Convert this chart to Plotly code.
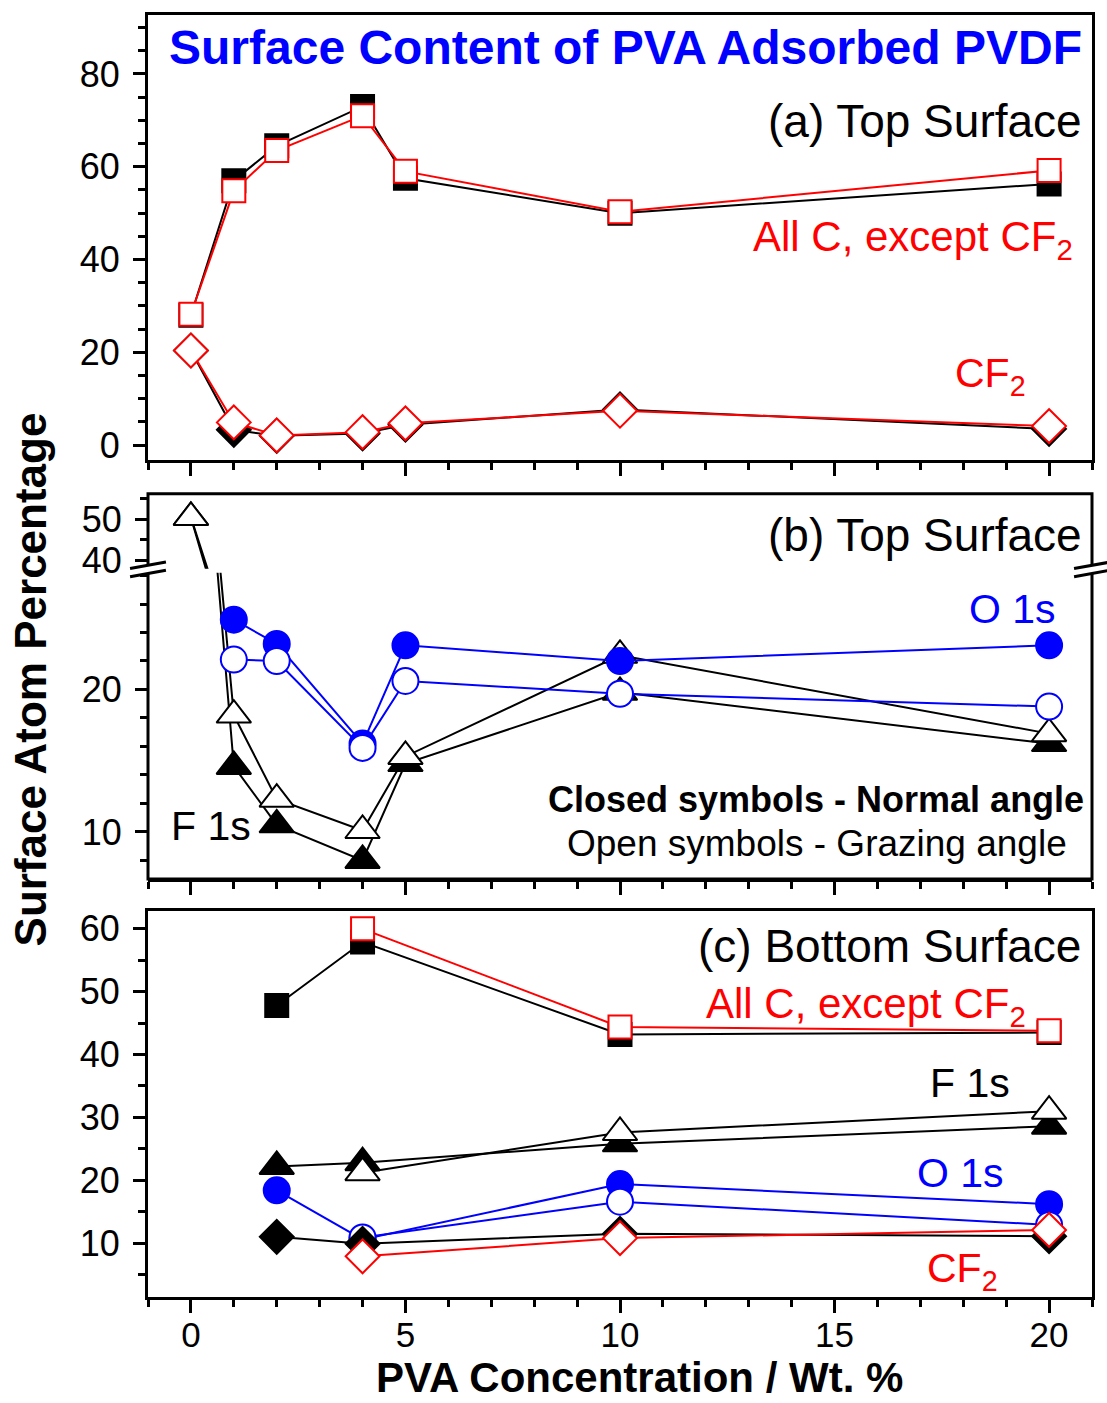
import plotly.graph_objects as go

# ---------------- data ----------------
# (a) Top surface: carbon (all C except CF2) and CF2
x_a = [0, 1, 2, 4, 5, 10, 20]
a_C_normal = [28.0, 57.0, 64.5, 73.0, 57.5, 50.0, 56.3]
a_C_grazing = [28.2, 54.8, 63.5, 71.0, 59.0, 50.3, 59.2]
a_CF2_normal = [20.4, 3.3, 2.0, 2.5, 4.4, 7.7, 3.5]
a_CF2_grazing = [20.4, 4.9, 2.1, 2.8, 4.7, 7.4, 4.1]

# (b) Top surface: F 1s and O 1s
x_bF = [0, 1, 2, 4, 5, 10, 20]
b_F_normal = [50.5, 14.6, 10.5, 8.0, 14.8, 19.8, 16.2]
b_F_grazing = [50.5, 18.2, 12.3, 10.1, 15.3, 22.4, 16.9]
x_bO = [1, 2, 4, 5, 10, 20]
b_O_normal = [24.9, 23.2, 16.2, 23.1, 22.0, 23.1]
b_O_grazing = [22.1, 22.0, 15.9, 20.6, 19.7, 18.8]

# (c) Bottom surface
x_c_normal = [2, 4, 10, 20]
x_c_grazing = [4, 10, 20]
c_C_normal = [47.8, 57.9, 43.2, 43.5]
c_C_grazing = [60.0, 44.4, 43.8]
c_F_normal = [22.2, 22.8, 25.8, 28.6]
c_F_grazing = [21.2, 27.6, 31.0]
c_O_normal = [18.4, 10.6, 19.4, 16.2]
c_O_grazing = [10.9, 16.6, 12.9]
c_CF2_normal = [11.0, 9.9, 11.5, 11.1]
c_CF2_grazing = [7.9, 10.8, 12.1]

x_ticks = [0, 5, 10, 15, 20]

# ---------------- styling ----------------
FONT = "Liberation Sans, Arial, sans-serif"
RED, BLUE, BLACK = "#ff0000", "#0000ff", "#000000"
SIZES = {"square": 23, "circle": 26, "triangle-up": 30, "diamond": 26}

fig = go.Figure()


def series(x, y, symbol, color, filled, xa, ya):
    fig.add_trace(go.Scatter(
        x=x, y=y, mode="lines+markers", xaxis=xa, yaxis=ya,
        line=dict(color=color, width=2),
        marker=dict(symbol=symbol, size=SIZES[symbol],
                    color=color if filled else "white",
                    line=dict(color=color, width=2)),
        showlegend=False, hoverinfo="skip", cliponaxis=True,
    ))


# panel (a)
series(x_a, a_C_normal, "square", BLACK, True, "x", "y")
series(x_a, a_C_grazing, "square", RED, False, "x", "y")
series(x_a, a_CF2_normal, "diamond", BLACK, True, "x", "y")
series(x_a, a_CF2_grazing, "diamond", RED, False, "x", "y")

# panel (b): drawn on both segments of the broken axis
for ya, xa in (("y2", "x2"), ("y3", "x3")):
    series(x_bF, b_F_normal, "triangle-up", BLACK, True, xa, ya)
    series(x_bF, b_F_grazing, "triangle-up", BLACK, False, xa, ya)
series(x_bO, b_O_normal, "circle", BLUE, True, "x2", "y2")
series(x_bO, b_O_grazing, "circle", BLUE, False, "x2", "y2")

# panel (c)
series(x_c_normal, c_C_normal, "square", BLACK, True, "x4", "y4")
series(x_c_grazing, c_C_grazing, "square", RED, False, "x4", "y4")
series(x_c_normal, c_F_normal, "triangle-up", BLACK, True, "x4", "y4")
series(x_c_grazing, c_F_grazing, "triangle-up", BLACK, False, "x4", "y4")
series(x_c_normal, c_O_normal, "circle", BLUE, True, "x4", "y4")
series(x_c_grazing, c_O_grazing, "circle", BLUE, False, "x4", "y4")
series(x_c_normal, c_CF2_normal, "diamond", BLACK, True, "x4", "y4")
series(x_c_grazing, c_CF2_grazing, "diamond", RED, False, "x4", "y4")

# ---------------- axes ----------------
tickfont = dict(family=FONT, size=36, color=BLACK)


def xax(show_labels, anchor, visible=True, line=True, mirror=True):
    return dict(
        range=[-1, 21], domain=[0, 1], anchor=anchor, visible=visible,
        showgrid=False, zeroline=False, showline=line, mirror=mirror,
        linecolor=BLACK, linewidth=3,
        tickmode="array", tickvals=x_ticks, showticklabels=show_labels,
        ticks="outside", ticklen=13, tickwidth=2.5, tickcolor=BLACK,
        ticklabelstandoff=-8,
        minor=dict(dtick=1, tick0=0, ticks="outside", ticklen=7,
                   tickwidth=2.5, tickcolor=BLACK),
        tickfont=dict(family=FONT, size=35, color=BLACK),
    )


def yax(domain, rng, tickvals, minor_dtick, anchor, line=True, mirror=True):
    return dict(
        domain=domain, range=rng, anchor=anchor,
        showgrid=False, zeroline=False, showline=line, mirror=mirror,
        linecolor=BLACK, linewidth=3,
        tickmode="array", tickvals=tickvals,
        ticks="outside", ticklen=12, tickwidth=2.5, tickcolor=BLACK,
        ticklabelstandoff=6,
        minor=dict(dtick=minor_dtick, tick0=0, ticks="outside", ticklen=7,
                   tickwidth=2.5, tickcolor=BLACK),
        tickfont=tickfont,
    )


dom_a = [0.6529, 1.0]
dom_b = [0.3261, 0.6265]
dom_b_low = [0.3261, 0.5650]
dom_b_up = [0.5681, 0.6265]
dom_c = [0.0, 0.3012]

fig.update_layout(
    width=1107, height=1403,
    margin=dict(l=148, r=14, t=12, b=106),
    paper_bgcolor="white", plot_bgcolor="white",
    font=dict(family=FONT, color=BLACK),
    xaxis=xax(False, "y"),
    yaxis=yax(dom_a, [-3.2, 92.7], [0, 20, 40, 60, 80], 5, "x"),
    xaxis2=xax(False, "y2", line=True, mirror=False),
    yaxis2=yax(dom_b_low, [6.7, 28.2], [10, 20], 2, "x2", line=False),
    xaxis3=xax(False, "y3", visible=False),
    yaxis3=yax(dom_b_up, [38, 56.25], [40, 50], 5, "x3", line=False),
    xaxis4=xax(True, "y4"),
    yaxis4=yax(dom_c, [1.43, 62.86], [10, 20, 30, 40, 50, 60], 5, "x4"),
)

# frame of panel (b), continuous across the axis break
shapes = [dict(type="rect", xref="paper", yref="paper", x0=0, x1=1,
               y0=dom_b[0], y1=dom_b[1], line=dict(color=BLACK, width=3),
               layer="above")]
# break marks on the left and right edges
ymid = (dom_b_low[1] + dom_b_up[0]) / 2 + 0.001
dx, dy, gap = 0.019, 0.0025, 0.0032
for xc in (0.0, 1.0):
    shapes.append(dict(type="path", xref="paper", yref="paper",
                       path=f"M{xc-dx},{ymid-gap-dy} L{xc+dx},{ymid-gap+dy} "
                            f"L{xc+dx},{ymid+gap+dy} L{xc-dx},{ymid+gap-dy} Z",
                       fillcolor="white", line=dict(width=0), layer="above"))
    for s in (-gap, gap):
        shapes.append(dict(type="line", xref="paper", yref="paper",
                           x0=xc - dx, x1=xc + dx,
                           y0=ymid + s - dy, y1=ymid + s + dy,
                           line=dict(color=BLACK, width=3), layer="above"))
fig.update_layout(shapes=shapes)


# ---------------- labels ----------------
def label(text, x, y, xref, yref, size=36, color=BLACK, xanchor="right",
          bold=False, angle=0):
    if bold:
        text = f"<b>{text}</b>"
    fig.add_annotation(text=text, x=x, y=y, xref=xref, yref=yref,
                       showarrow=False, xanchor=xanchor, yanchor="middle",
                       textangle=angle,
                       font=dict(family=FONT, size=size, color=color))


label("Surface Content of PVA Adsorbed PVDF", 20.82, 85.8, "x", "y",
      size=48, color=BLUE, bold=True)
label("(a) Top Surface", 20.82, 69.9, "x", "y", size=46)
label("All C, except CF<sub>2</sub>", 20.6, 44.3, "x", "y", size=42, color=RED)
label("CF<sub>2</sub>", 19.5, 15.0, "x", "y", size=41, color=RED)

label("(b) Top Surface", 20.82, 46.3, "x3", "y3", size=46)
label("O 1s", 20.2, 25.66, "x2", "y2", size=41, color=BLUE)
label("F 1s", -0.5, 10.42, "x2", "y2", size=41, xanchor="left")
label("Closed symbols - Normal angle", 20.86, 12.3, "x2", "y2", size=36,
      bold=True)
label("Open symbols - Grazing angle", 20.47, 9.16, "x2", "y2", size=37)

label("(c) Bottom Surface", 20.79, 57.3, "x4", "y4", size=46)
label("All C, except CF<sub>2</sub>", 19.5, 47.6, "x4", "y4", size=42, color=RED)
label("F 1s", 19.14, 35.4, "x4", "y4", size=41)
label("O 1s", 19.0, 21.1, "x4", "y4", size=41, color=BLUE)
label("CF<sub>2</sub>", 18.85, 5.5, "x4", "y4", size=41, color=RED)

label("PVA Concentration / Wt. %", 0.5206, -0.0630, "paper", "paper",
      size=42, bold=True, xanchor="center")
label("Surface Atom Percentage", -0.125, 0.4817, "paper", "paper",
      size=44, bold=True, xanchor="center", angle=-90)

fig.write_html("out.html")
